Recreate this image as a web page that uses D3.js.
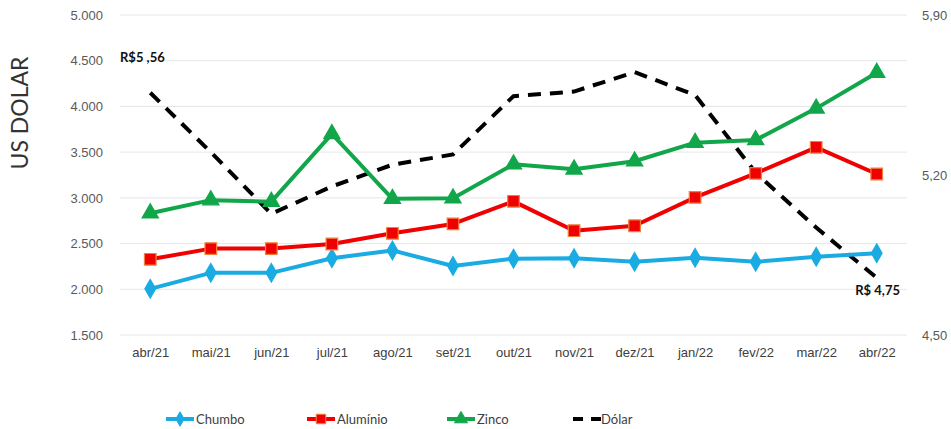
<!DOCTYPE html>
<html><head><meta charset="utf-8">
<script src="https://cdn.jsdelivr.net/npm/d3@7"></script>
<style>body{margin:0;background:#fff;} svg{display:block;font-family:Lato,"Open Sans",sans-serif;}</style>
</head><body>
<svg id="c" width="951" height="429"></svg>
<script>
const categories = ["abr/21","mai/21","jun/21","jul/21","ago/21","set/21","out/21","nov/21","dez/21","jan/22","fev/22","mar/22","abr/22"];
const chumbo   = [2005,2180,2180,2340,2425,2255,2335,2340,2300,2345,2300,2355,2395];
const aluminio = [2328,2445,2445,2495,2612,2715,2962,2641,2695,3005,3268,3553,3261];
const zinco    = [2832,2975,2958,3700,2990,2995,3367,3312,3400,3604,3633,3979,4369];
const dolar    = [5.56,5.30,5.03,5.15,5.245,5.29,5.545,5.565,5.65,5.55,5.21,4.97,4.75];
const leftTicks = [1500,2000,2500,3000,3500,4000,4500,5000];
const rightTicks = [4.5,5.2,5.9];

const svg = d3.select("#c");
const x0 = 120, x1 = 907, yTop = 15, yBot = 335;
const x = d3.scalePoint().domain(categories).range([x0,x1]).padding(0.5);
const y = d3.scaleLinear().domain([1500,5000]).range([yBot,yTop]);
const y2 = d3.scaleLinear().domain([4.5,5.9]).range([yBot,yTop]);

// grid
svg.append("g").selectAll("line").data(leftTicks).join("line")
  .attr("x1",x0).attr("x2",x1).attr("y1",d=>y(d)).attr("y2",d=>y(d))
  .attr("stroke","#e6e6e6").attr("stroke-width",1);

// left axis
const la = svg.append("g").attr("transform",`translate(${x0},0)`)
  .call(d3.axisLeft(y).tickValues(leftTicks).tickSize(0).tickPadding(17).tickFormat(d=>d3.format(".3f")(d/1000)));
la.select(".domain").remove();
la.selectAll("text").attr("font-size",13).attr("fill","#595959");

// right axis
const ra = svg.append("g").attr("transform",`translate(${x1},0)`)
  .call(d3.axisRight(y2).tickValues(rightTicks).tickSize(0).tickPadding(15).tickFormat(d=>d3.format(".2f")(d).replace(".",",")));
ra.select(".domain").remove();
ra.selectAll("text").attr("font-size",13).attr("fill","#595959");

// x axis
const xa = svg.append("g").attr("transform",`translate(0,${yBot})`)
  .call(d3.axisBottom(x).tickSize(0).tickPadding(13));
xa.select(".domain").remove();
xa.selectAll("text").attr("font-size",13).attr("fill","#404040");

// y title
svg.append("text").attr("transform","translate(28,113) rotate(-90)")
  .attr("text-anchor","middle").attr("font-size",23).attr("font-weight",400).attr("fill","#333").text("US DOLAR");

// dolar
svg.append("path").datum(dolar).attr("fill","none").attr("stroke","#000").attr("stroke-width",4)
  .attr("stroke-dasharray","13,9").attr("d", d3.line().x((d,i)=>x(categories[i])).y(d=>y2(d)));

const series = [
  {name:"Chumbo", data:chumbo, color:"#1AABE3", sym:d3.symbolDiamond, size:100, stroke:"#1AABE3"},
  {name:"Alumínio", data:aluminio, color:"#F00000", sym:d3.symbolSquare, size:135, stroke:"#F2803A"},
  {name:"Zinco", data:zinco, color:"#12A64A", sym:d3.symbolTriangle, size:115, stroke:"#12A64A"}
];
series.forEach(s=>{
  svg.append("path").datum(s.data).attr("fill","none").attr("stroke",s.color).attr("stroke-width",4)
    .attr("stroke-linejoin","round").attr("d", d3.line().x((d,i)=>x(categories[i])).y(d=>y(d)));
  svg.append("g").selectAll("path").data(s.data).join("path")
    .attr("transform",(d,i)=>`translate(${x(categories[i])},${y(d)})`)
    .attr("d", d3.symbol(s.sym, s.size)).attr("fill",s.color).attr("stroke",s.stroke).attr("stroke-width",1.2);
});

// annotations
svg.append("text").attr("x",120).attr("y",62).attr("font-size",13).attr("font-weight","bold").attr("fill","#111")
  .text("R$5 ,56");
svg.append("text").attr("x",900).attr("y",295).attr("text-anchor","end").attr("font-size",13).attr("font-weight","bold").attr("fill","#111")
  .text("R$ 4,75");

// legend
const leg = [
  {name:"Chumbo", x:166, color:"#1AABE3", sym:d3.symbolDiamond, size:60, stroke:"#1AABE3"},
  {name:"Alumínio", x:307, color:"#F00000", sym:d3.symbolSquare, size:90, stroke:"#F2803A"},
  {name:"Zinco", x:447, color:"#12A64A", sym:d3.symbolTriangle, size:75, stroke:"#12A64A"},
  {name:"Dólar", x:573, color:"#000", sym:null}
];
const ly = 419;
leg.forEach(l=>{
  const g = svg.append("g");
  if (l.sym) {
    g.append("line").attr("x1",l.x).attr("x2",l.x+28).attr("y1",ly).attr("y2",ly).attr("stroke",l.color).attr("stroke-width",4);
    g.append("path").attr("transform",`translate(${l.x+14},${ly})`).attr("d",d3.symbol(l.sym,l.size)).attr("fill",l.color).attr("stroke",l.stroke);
  } else {
    g.append("line").attr("x1",l.x).attr("x2",l.x+28).attr("y1",ly).attr("y2",ly).attr("stroke","#000").attr("stroke-width",4).attr("stroke-dasharray","10,8");
  }
  g.append("text").attr("x",l.x+(l.sym?30:28)).attr("y",ly+5).attr("font-size",13).attr("fill","#404040").text(l.name);
});
</script>
</body></html>
